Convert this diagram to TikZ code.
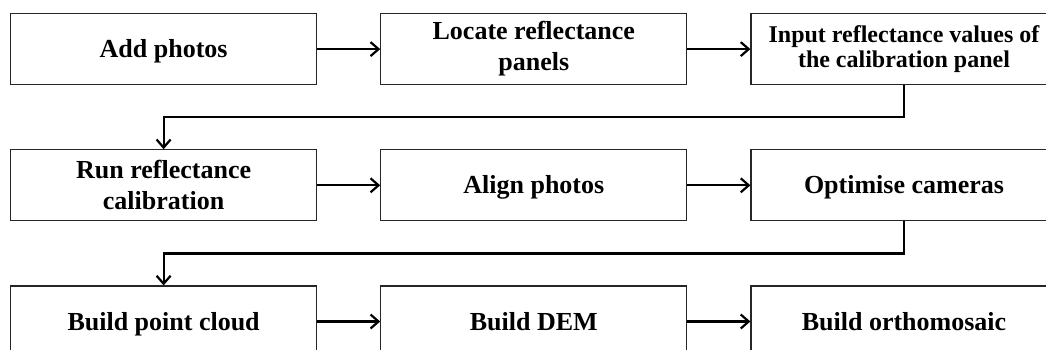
\documentclass[tikz,border=0pt]{standalone}
\usepackage{fontspec}
\setmainfont{Liberation Serif}
\usetikzlibrary{positioning, arrows.meta}

\begin{document}
\begin{tikzpicture}[
	x=1pt, y=1pt,
	node distance=64pt and 63pt,
	box/.style={
		draw=black!85,
		line width=1.2pt,
		minimum width=306pt,
		minimum height=71pt,
		align=center,
		font=\fontsize{26}{31}\selectfont\bfseries
	},
	oneline/.style={text height=21pt, text depth=4pt},
	flow/.style={-{Straight Barb[length=8pt,width=14pt]}, line width=2.2pt}
	]
	
	\path[use as bounding box, clip] (0,0) rectangle (1046,-349);
	
	% Fila 1
	\node[box, oneline, anchor=north west] (photos) at (10,-13) {Add photos};
	\node[box, right=of photos] (panels) {Locate reflectance\\panels};
	\node[box, right=of panels, font=\fontsize{24}{25}\selectfont\bfseries] (values) {Input reflectance values of\\the calibration panel};
	
	% Fila 2
	\node[box, below=of photos] (calib) {Run reflectance\\calibration};
	\node[box, oneline, right=of calib] (align) {Align photos};
	\node[box, oneline, right=of align] (optim) {Optimise cameras};
	
	% Fila 3
	\node[box, oneline, below=of calib] (cloud) {Build point cloud};
	\node[box, oneline, right=of cloud] (dem) {Build DEM};
	\node[box, oneline, right=of dem] (ortho) {Build orthomosaic};
	
	% Flechas
	\draw[flow] (photos) -- (panels);
	\draw[flow] (panels) -- (values);
	\draw[flow] (values.south) -- ++(0,-32) -| (calib.north);
	\draw[flow] (calib) -- (align);
	\draw[flow] (align) -- (optim);
	\draw[flow] (optim.south) -- ++(0,-32) -| (cloud.north);
	\draw[flow] (cloud) -- (dem);
	\draw[flow] (dem) -- (ortho);
	
\end{tikzpicture}
\end{document}
